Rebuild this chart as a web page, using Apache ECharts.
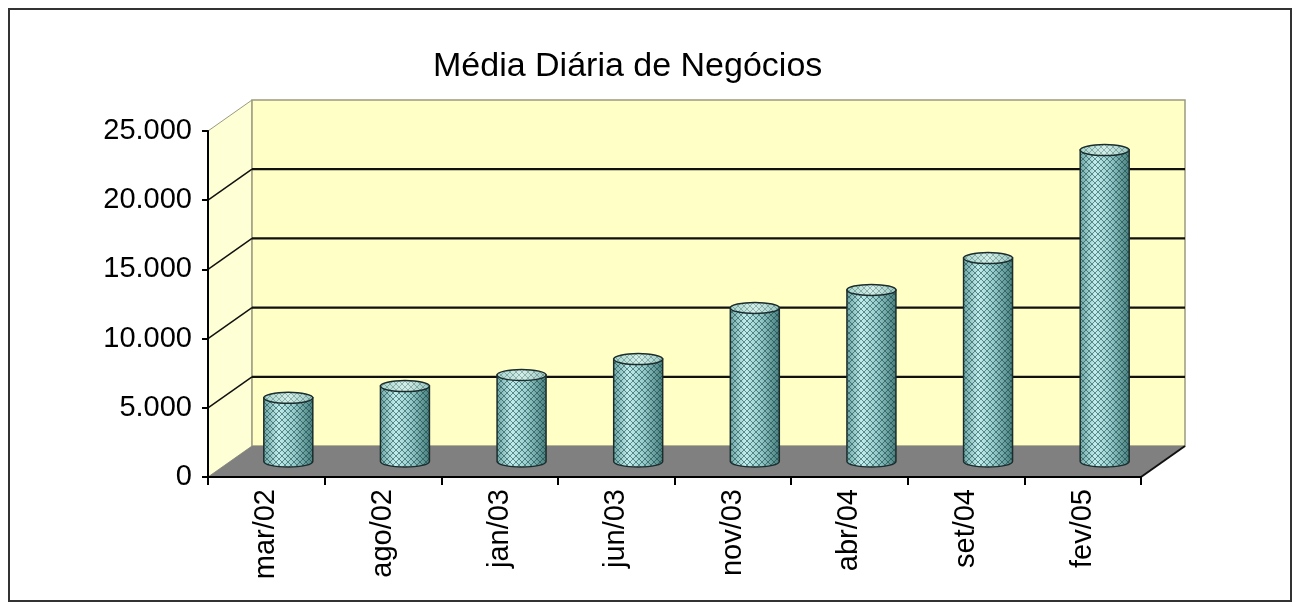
<!DOCTYPE html>
<html><head><meta charset="utf-8">
<script src="https://cdn.jsdelivr.net/npm/echarts@6/dist/echarts.min.js"></script>
<style>html,body{margin:0;padding:0;background:#fff}#c{width:1298px;height:609px}</style>
</head><body><div id="c"></div>
<script>
const title = 'Média Diária de Negócios';
const categories = ['mar/02','ago/02','jan/03','jun/03','nov/03','abr/04','set/04','fev/05'];
const values = [4600, 5450, 6250, 7400, 11100, 12400, 14700, 22500];
const yTicks = [0, 5000, 10000, 15000, 20000, 25000];

const DX = 44, DY = -31;
const FONT = '"Liberation Sans", Arial, sans-serif';
const chart = echarts.init(document.getElementById('c'), null, {renderer: 'canvas'});

const pc = document.createElement('canvas'); pc.width = 6; pc.height = 6;
const g = pc.getContext('2d');
g.strokeStyle = 'rgba(15,60,60,0.55)'; g.lineWidth = 1;
g.beginPath(); g.moveTo(0,0); g.lineTo(6,6); g.moveTo(6,0); g.lineTo(0,6); g.stroke();
const hatch = {image: pc, repeat: 'repeat'};

function fmt(v){ return String(v).replace(/\B(?=(\d{3})+(?!\d))/g, '.'); }

function renderWalls(params, api){
  const cs = params.coordSys;
  const x = cs.x, y = cs.y, w = cs.width, h = cs.height;
  const ch = [];
  ch.push({type:'polygon', shape:{points:[[x,y+h],[x,y],[x+DX,y+DY],[x+DX,y+h+DY]]},
    style:{fill:'#ffffd6', stroke:'#9a9a80', lineWidth:1}});
  ch.push({type:'rect', shape:{x:x+DX, y:y+DY, width:w, height:h},
    style:{fill:'#ffffc6', stroke:'#9a9a80', lineWidth:1.5}});
  yTicks.forEach(function(v){
    if (v === 0 || v === yTicks[yTicks.length-1]) return;
    const yy = api.coord([0, v])[1];
    ch.push({type:'line', shape:{x1:x+DX, y1:yy+DY, x2:x+w+DX, y2:yy+DY}, style:{stroke:'#111', lineWidth:2.2}});
    ch.push({type:'line', shape:{x1:x, y1:yy, x2:x+DX, y2:yy+DY}, style:{stroke:'#111', lineWidth:1.5}});
  });
  ch.push({type:'polygon', shape:{points:[[x,y+h],[x+w,y+h],[x+w+DX,y+h+DY],[x+DX,y+h+DY]]},
    style:{fill:'#808080', stroke:null}});
  ch.push({type:'line', shape:{x1:x+w, y1:y+h, x2:x+w+DX, y2:y+h+DY}, style:{stroke:'#111', lineWidth:2}});
  return {type:'group', children:ch};
}

function renderCyl(params, api){
  const top = api.coord([api.value(0), api.value(1)]);
  const bot = api.coord([api.value(0), 0]);
  const bw = api.size([1, 0])[0] * 0.42;
  const rx = bw/2, ry = 5.5;
  const cx = top[0] + DX/2, ty = top[1] + DY/2, by = bot[1] + DY/2;
  const d = 'M' + (cx-rx) + ' ' + ty + ' L' + (cx-rx) + ' ' + by +
    ' A' + rx + ' ' + ry + ' 0 0 0 ' + (cx+rx) + ' ' + by +
    ' L' + (cx+rx) + ' ' + ty + ' Z';
  const grad = new echarts.graphic.LinearGradient(0,0,1,0,[
    {offset:0, color:'#6fa6a6'},{offset:0.3, color:'#c0ecec'},
    {offset:0.6, color:'#98cece'},{offset:1, color:'#4a7f7f'}]);
  const tgrad = new echarts.graphic.LinearGradient(0,0,1,0,[
    {offset:0, color:'#a8d4cc'},{offset:0.5, color:'#d2eee8'},{offset:1, color:'#9cc6c0'}]);
  return {type:'group', children:[
    {type:'path', shape:{pathData:d}, style:{fill:grad, stroke:null}},
    {type:'path', shape:{pathData:d}, style:{fill:hatch, stroke:'#1c2c2c', lineWidth:1.5}},
    {type:'ellipse', shape:{cx:cx, cy:ty, rx:rx, ry:ry}, style:{fill:tgrad, stroke:'#1c2c2c', lineWidth:1.5}},
    {type:'ellipse', shape:{cx:cx, cy:ty, rx:rx, ry:ry}, style:{fill:hatch, stroke:null, opacity:0.6}}
  ]};
}

chart.setOption({
  animation: false,
  backgroundColor: '#ffffff',
  title: {text: title, left: 433, top: 50, padding: 0,
    textStyle: {fontFamily: FONT, fontSize: 34, fontWeight: 'normal', color: '#000'}},
  grid: {left: 208, right: 157, top: 131, bottom: 132},
  xAxis: {type: 'category', data: categories, boundaryGap: true, z: 10,
    axisLine: {lineStyle: {color: '#000', width: 2}},
    axisTick: {show: true, interval: 0, length: 8, lineStyle: {color: '#000', width: 2}},
    axisLabel: {rotate: 90, interval: 0, margin: 12, fontSize: 29, color: '#000', fontFamily: FONT},
    splitLine: {show: false}},
  yAxis: {type: 'value', min: 0, max: 25000, interval: 5000, z: 10,
    axisLine: {show: true, lineStyle: {color: '#000', width: 2}},
    axisTick: {show: true, length: 6, lineStyle: {color: '#000', width: 2}},
    axisLabel: {formatter: fmt, margin: 16, fontSize: 29, color: '#000', fontFamily: FONT},
    splitLine: {show: false}},
  graphic: [{type: 'rect', shape: {x: 9, y: 9, width: 1282, height: 592},
    style: {fill: null, stroke: '#333', lineWidth: 2}, silent: true}],
  series: [
    {type: 'custom', name: 'walls', z: 1, silent: true, data: [[0, 0]], renderItem: renderWalls},
    {type: 'custom', name: 'Média Diária de Negócios', z: 3, data: values.map(function(v,i){return [i, v];}),
      encode: {x: 0, y: 1}, renderItem: renderCyl}
  ]
});
</script></body></html>
